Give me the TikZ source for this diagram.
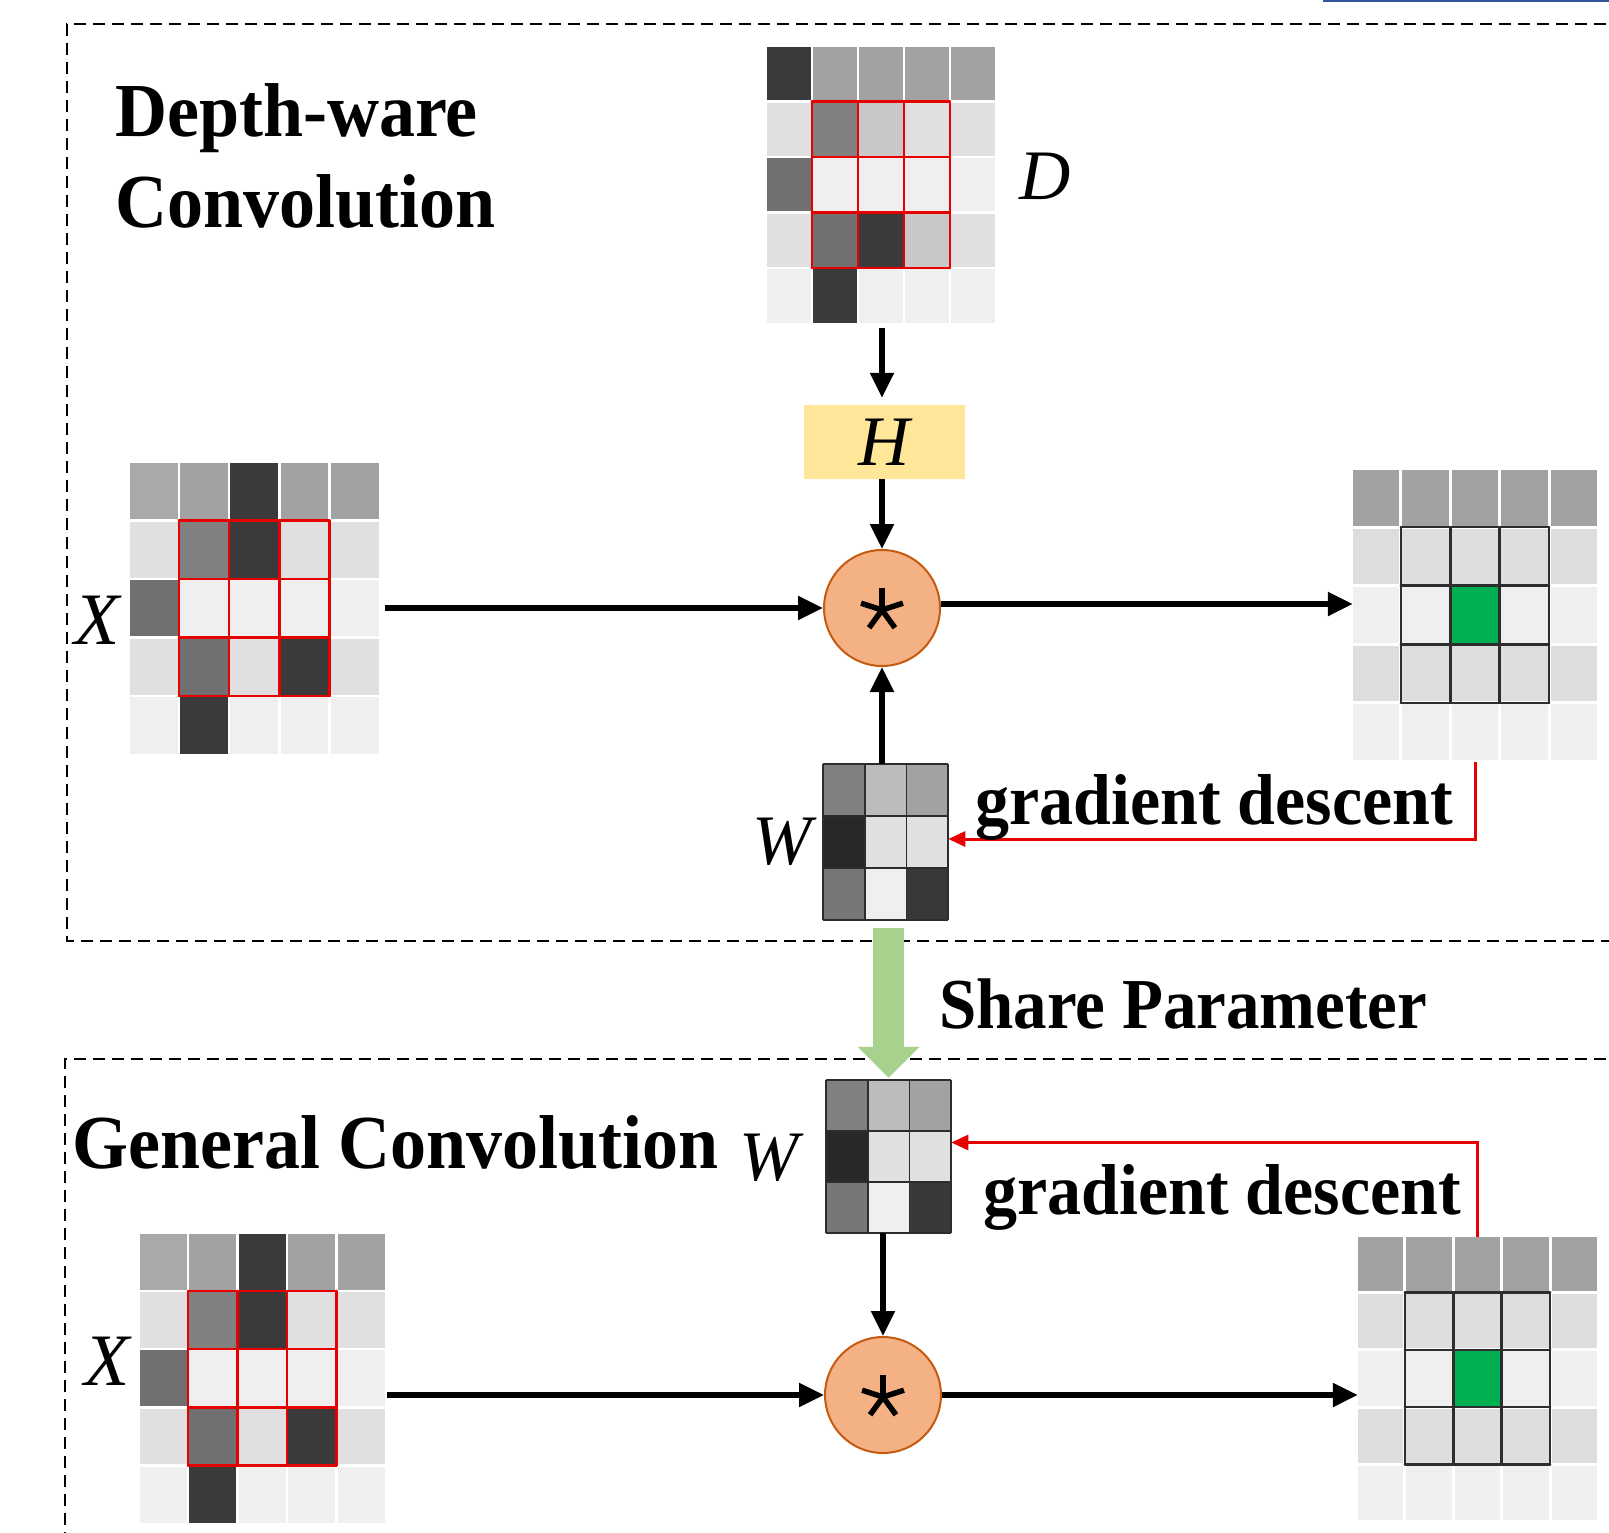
\documentclass[tikz,border=0pt]{standalone}
\usepackage{fontspec}
\usepackage{graphicx}
\setmainfont{Liberation Serif}
\usetikzlibrary{arrows.meta,fit}
\definecolor{ga}{RGB}{58,58,58}
\definecolor{gb}{RGB}{162,162,162}
\definecolor{gc}{RGB}{224,224,224}
\definecolor{gd}{RGB}{128,128,128}
\definecolor{ge}{RGB}{200,200,200}
\definecolor{gf}{RGB}{239,239,239}
\definecolor{gg}{RGB}{112,112,112}
\definecolor{gh}{RGB}{170,168,168}
\definecolor{gi}{RGB}{221,221,221}
\definecolor{gk}{RGB}{40,40,40}
\definecolor{gl}{RGB}{188,188,188}
\definecolor{gm}{RGB}{120,118,118}
\definecolor{gn}{RGB}{56,56,56}
\definecolor{gj}{RGB}{0,176,80}
\definecolor{hyellow}{RGB}{255,230,153}
\definecolor{corange}{RGB}{244,177,131}
\definecolor{cborder}{RGB}{197,90,17}
\definecolor{arrgreen}{RGB}{169,209,142}
\definecolor{rline}{RGB}{230,0,0}
\definecolor{kline}{RGB}{45,45,45}
\definecolor{bluel}{RGB}{47,85,151}

% #1 name, #2 x0, #3 y0, #4 pitch x, #5 pitch y, #6 gap, #7 n, #8 rows
\newcommand\pixgrid[8]{%
  \foreach \rowlist [count=\ri from 0] in {#8} {
    \foreach \cc [count=\ci from 0] in \rowlist {
      \fill[\cc] ({#2+\ci*#4},{#3+\ri*#5}) rectangle ({#2+(\ci+1)*#4-#6},{#3+(\ri+1)*#5-#6});
    }
  }
  \node[inner sep=0pt, fit={(#2,#3) ({#2+#7*#4-#6},{#3+#7*#5-#6})}] (#1) {};
}
% window lines: #1 x0, #2 y0, #3 px, #4 py, #5 gap, #6 colour
\newcommand\winlines[6]{%
  \foreach \k in {1,...,4} {
    \draw[#6, line width=2.5pt, line cap=round] ({#1+\k*#3-#5/2},{#2+#4-#5/2}) -- ({#1+\k*#3-#5/2},{#2+4*#4-#5/2});
    \draw[#6, line width=2.5pt, line cap=round] ({#1+#3-#5/2},{#2+\k*#4-#5/2}) -- ({#1+4*#3-#5/2},{#2+\k*#4-#5/2});
  }
}
% kernel grid lines: #1 x0, #2 y0, #3 px, #4 py
\newcommand\kerlines[4]{%
  \foreach \k in {0,...,3} {
    \draw[kline, line width=1.6pt] ({#1+\k*#3},{#2}) -- ({#1+\k*#3},{#2+3*#4});
    \draw[kline, line width=1.6pt] ({#1},{#2+\k*#4}) -- ({#1+3*#3},{#2+\k*#4});
  }
}

\tikzset{
  dbox/.style={line width=2pt, dash pattern=on 12pt off 7pt},
  barr/.style={line width=5.5pt, -{Triangle[length=25pt,width=23pt]}},
  rarr/.style={rline, line width=3pt, -{Triangle[length=17pt,width=15pt]}},
  garr/.style={arrgreen, line width=31pt, -{Triangle[length=31pt,width=60pt]}},
  lab/.style={inner sep=0pt, anchor=base west},
  bigbold/.style={font=\bfseries\fontsize{72}{72}\selectfont},
  midbold/.style={font=\bfseries\fontsize{68}{68}\selectfont},
  ital/.style={font=\itshape\fontsize{71}{71}\selectfont},
  convnode/.style={circle, fill=corange, draw=cborder, line width=2pt, minimum size=116pt, inner sep=0pt},
}

\begin{document}
\begin{tikzpicture}[x=1pt, y=-1pt]
\useasboundingbox (0,0) rectangle (1609,1533);
\clip (0,0) rectangle (1609,1533);
\fill[white] (0,0) rectangle (1609,1533);

% frames
\draw[dbox] (1625,24) -- (67,24) -- (67,941) -- (1625,941);
\draw[dbox] (1625,1059) -- (65,1059) -- (65,1550);
\draw[bluel, line width=3pt] (1323,1) -- (1625,1);

% ---------- top part ----------
\pixgrid{Dg}{767}{47}{46}{55.6}{2.5}{5}{{ga,gb,gb,gb,gb},{gc,gd,ge,gc,gc},{gg,gf,gf,gf,gf},{gc,gg,ga,ge,gc},{gf,ga,gf,gf,gf}}
\winlines{767}{47}{46}{55.6}{2.5}{rline}

\pixgrid{Xg1}{130}{463}{50.2}{58.6}{2.5}{5}{{gh,gb,ga,gb,gb},{gc,gd,ga,gc,gc},{gg,gf,gf,gf,gf},{gc,gg,gc,ga,gc},{gf,ga,gf,gf,gf}}
\winlines{130}{463}{50.2}{58.6}{2.5}{rline}

\pixgrid{Og1}{1353}{470}{49.4}{58.6}{3}{5}{{gb,gb,gb,gb,gb},{gi,gi,gi,gi,gi},{gf,gf,gj,gf,gf},{gi,gi,gi,gi,gi},{gf,gf,gf,gf,gf}}
\winlines{1353}{470}{49.4}{58.6}{3}{kline}

\pixgrid{Wg1}{823}{764}{41.7}{52}{0}{3}{{gd,gl,gb},{gk,gc,gc},{gm,gf,gn}}
\kerlines{823}{764}{41.7}{52}

\node[fill=hyellow, minimum width=161pt, minimum height=74pt, inner sep=0pt, ital] (H) at (884.5,442) {H};
\node[convnode] (conv1) at (882,608) {};
\foreach \a in {90,162,18,234,306}
  \draw[line width=5.5pt] ([yshift=-2pt]conv1.center) -- ++(\a:22pt);

\coordinate (dtop) at ([yshift=-5pt]Dg.south -| conv1.north);
\coordinate (htip) at ([yshift=7pt]H.north -| conv1.north);
\draw[barr] (dtop) -- (htip);
\draw[barr] (H.south -| conv1.north) -- (conv1.north);
\draw[barr] (Wg1.north -| conv1.south) -- (conv1.south);
\draw[barr] ([xshift=6pt]Xg1.east |- conv1.west) -- (conv1.west);
\draw[barr] ([yshift=4pt]conv1.east) -- ([yshift=4pt]conv1.east -| Og1.west);
\draw[rarr] ([yshift=-2pt]Og1.south) |- ([yshift=3pt]Wg1.east);

\node[lab, bigbold] (t1) at (115,137) {\scalebox{1}[1.06]{Depth-ware}};
\node[lab, bigbold] (t2) at (115,228) {\scalebox{1}[1.06]{Convolution}};
\node[lab, ital] (Dl) at (1019,200) {D};
\node[lab, ital, font=\itshape\fontsize{74}{74}\selectfont] (Xl1) at (74,644) {X};
\node[lab, ital] (Wl1) at (752,864) {W};
\node[lab, midbold] (gd1) at (975,824) {\scalebox{1}[1.06]{gradient descent}};

% ---------- share ----------
\coordinate (gtop) at ([yshift=-8pt]Wg1.south);
\node[lab, font=\bfseries\fontsize{67}{67}\selectfont] (share) at (939,1028) {\scalebox{1}[1.07]{Share Parameter}};

% ---------- bottom part ----------
\pixgrid{Wg2}{826}{1080}{41.7}{51}{0}{3}{{gd,gl,gb},{gk,gc,gc},{gm,gf,gn}}
\kerlines{826}{1080}{41.7}{51}
\draw[garr] (gtop -| Wg2.north) -- ([yshift=2pt]Wg2.north);

\pixgrid{Xg2}{140}{1234}{49.4}{58.2}{2.5}{5}{{gh,gb,ga,gb,gb},{gc,gd,ga,gc,gc},{gg,gf,gf,gf,gf},{gc,gg,gc,ga,gc},{gf,ga,gf,gf,gf}}
\winlines{140}{1234}{49.4}{58.2}{2.5}{rline}

\pixgrid{Og2}{1358}{1237}{48.4}{57.2}{3}{5}{{gb,gb,gb,gb,gb},{gi,gi,gi,gi,gi},{gf,gf,gj,gf,gf},{gi,gi,gi,gi,gi},{gf,gf,gf,gf,gf}}
\winlines{1358}{1237}{48.4}{57.2}{3}{kline}

\node[convnode] (conv2) at (883,1395) {};
\foreach \a in {90,162,18,234,306}
  \draw[line width=5.5pt] ([yshift=-2pt]conv2.center) -- ++(\a:22pt);

\draw[barr] (Wg2.south -| conv2.north) -- (conv2.north);
\draw[barr] ([xshift=2pt]Xg2.east |- conv2.west) -- (conv2.west);
\draw[barr] (conv2.east) -- (conv2.east -| Og2.west);
\draw[rarr] (Og2.north) |- ([yshift=14pt]Wg2.east);

\node[lab, bigbold] (t3) at (72,1168) {\scalebox{1}[1.06]{General Convolution}};
\node[lab, ital] (Wl2) at (739,1180) {W};
\node[lab, ital, font=\itshape\fontsize{74}{74}\selectfont] (Xl2) at (84,1385) {X};
\node[lab, midbold] (gd2) at (983,1214) {\scalebox{1}[1.06]{gradient descent}};
\end{tikzpicture}
\end{document}
